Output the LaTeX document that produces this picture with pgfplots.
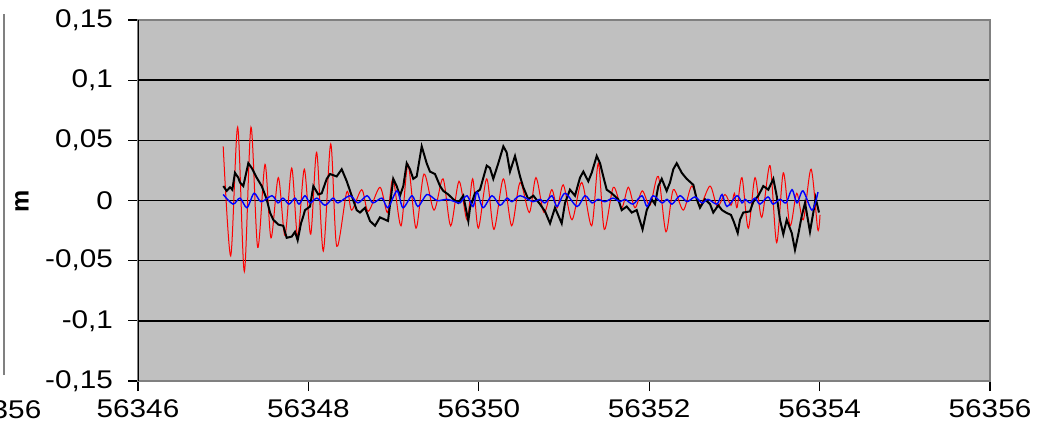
\documentclass[border=0pt]{standalone}
\usepackage{fontspec}
\setmainfont{Liberation Sans}[FakeStretch=1.16]
\newfontfamily\plainsans{Liberation Sans}
\usepackage{pgfplots}
\usepackage{pgfplotstable}
\pgfplotsset{compat=1.18}
\definecolor{plotbg}{HTML}{C0C0C0}
\definecolor{framegray}{HTML}{808080}

% x is given as offset from 56346
\pgfplotstableread{
x y
1.000 0.045
1.088 -0.046
1.170 0.061
1.248 -0.059
1.326 0.061
1.405 -0.039
1.491 0.030
1.561 -0.031
1.647 0.019
1.725 -0.029
1.804 0.027
1.874 -0.030
1.952 0.026
2.027 -0.028
2.097 0.040
2.175 -0.042
2.262 0.047
2.332 -0.038
2.450 0.007
2.508 -0.008
2.626 0.009
2.703 -0.009
2.840 0.011
2.928 -0.010
2.993 0.018
3.087 -0.021
3.169 0.030
3.263 -0.023
3.357 0.022
3.474 -0.008
3.580 0.018
3.670 -0.021
3.768 0.016
3.862 -0.016
3.928 0.018
3.994 -0.023
4.093 0.018
4.178 -0.024
4.288 0.018
4.386 -0.021
4.484 0.015
4.593 -0.010
4.671 0.019
4.765 -0.010
4.856 0.009
4.921 -0.006
4.992 0.013
5.094 -0.016
5.208 0.015
5.325 -0.021
5.403 0.031
5.473 -0.024
5.579 0.011
5.677 -0.006
5.755 0.011
5.833 -0.006
5.919 0.008
6.009 -0.004
6.107 0.020
6.197 -0.026
6.283 0.009
6.400 -0.008
6.499 0.012
6.596 -0.004
6.714 0.012
6.799 -0.005
6.890 0.005
6.960 -0.004
7.000 0.006
7.031 -0.006
7.089 0.019
7.163 -0.023
7.242 0.019
7.321 -0.014
7.418 0.029
7.496 -0.035
7.574 0.023
7.653 -0.021
7.732 0.006
7.809 -0.016
7.900 0.026
7.978 -0.024
8.005 -0.012
}\redtab

\pgfplotstableread{
x y
1.001 0.012
1.041 0.008
1.080 0.011
1.107 0.009
1.138 0.023
1.177 0.019
1.197 0.015
1.236 0.012
1.295 0.031
1.335 0.027
1.393 0.019
1.452 0.012
1.511 0.001
1.549 -0.010
1.588 -0.016
1.647 -0.020
1.705 -0.021
1.745 -0.031
1.804 -0.030
1.843 -0.026
1.874 -0.033
1.913 -0.019
1.940 -0.013
1.960 -0.008
2.019 -0.005
2.058 0.012
2.116 0.005
2.156 0.006
2.215 0.018
2.254 0.022
2.332 0.020
2.391 0.026
2.450 0.016
2.508 0.004
2.567 -0.008
2.606 -0.010
2.664 -0.006
2.723 -0.017
2.782 -0.021
2.840 -0.014
2.934 -0.017
2.996 0.018
3.036 0.012
3.075 0.004
3.114 0.012
3.154 0.031
3.192 0.026
3.231 0.018
3.271 0.020
3.330 0.045
3.388 0.031
3.427 0.024
3.486 0.022
3.545 0.012
3.583 0.008
3.642 0.005
3.701 0.001
3.759 -0.002
3.818 0.004
3.877 -0.017
3.897 -0.006
3.955 0.006
4.014 0.009
4.093 0.029
4.131 0.027
4.170 0.018
4.229 0.031
4.288 0.045
4.327 0.040
4.366 0.024
4.425 0.037
4.484 0.020
4.522 0.011
4.581 0.001
4.640 0.004
4.718 -0.003
4.777 -0.009
4.836 -0.019
4.894 -0.006
4.973 -0.019
5.012 -0.002
5.070 0.009
5.129 0.004
5.188 0.019
5.227 0.024
5.285 0.016
5.325 0.023
5.384 0.037
5.423 0.031
5.461 0.020
5.501 0.009
5.560 0.006
5.637 0.001
5.677 -0.008
5.736 -0.005
5.795 -0.010
5.853 -0.008
5.922 -0.024
5.971 -0.008
6.029 0.001
6.068 -0.003
6.107 0.012
6.147 0.018
6.205 0.008
6.244 0.015
6.283 0.026
6.323 0.031
6.382 0.023
6.440 0.018
6.518 0.013
6.558 0.001
6.596 -0.006
6.655 0.001
6.714 -0.003
6.752 -0.010
6.811 -0.004
6.855 -0.008
6.901 -0.010
6.960 -0.012
6.995 -0.018
7.039 -0.027
7.066 -0.016
7.104 -0.010
7.183 -0.009
7.222 -0.001
7.281 0.004
7.339 0.012
7.398 0.009
7.457 0.018
7.496 0.004
7.535 -0.016
7.574 -0.028
7.614 -0.016
7.673 -0.027
7.711 -0.041
7.750 -0.028
7.790 -0.013
7.829 -0.002
7.887 -0.026
7.926 -0.010
7.954 0.002
7.993 -0.010
}\blacktab

\pgfplotstableread{
x y
1.000 0.005
1.115 -0.003
1.197 0.002
1.279 -0.006
1.362 0.006
1.444 -0.001
1.573 0.004
1.643 -0.002
1.702 0.002
1.772 -0.003
1.843 0.002
1.890 -0.003
1.960 0.004
2.019 -0.002
2.101 0.002
2.195 -0.004
2.289 0.002
2.347 -0.002
2.488 0.004
2.582 -0.002
2.688 0.004
2.758 -0.002
2.864 0.002
2.934 -0.006
3.040 0.008
3.110 -0.006
3.216 0.004
3.286 -0.005
3.392 0.005
3.509 0.000
3.627 0.001
3.721 -0.001
3.779 -0.002
3.862 0.004
3.932 -0.005
3.979 0.007
4.049 -0.006
4.155 0.004
4.249 -0.004
4.331 0.002
4.390 -0.001
4.484 0.004
4.636 -0.001
4.718 0.001
4.777 -0.002
4.859 0.004
4.918 -0.005
5.012 0.006
5.153 -0.005
5.246 0.004
5.329 -0.002
5.399 0.001
5.481 -0.001
5.575 0.002
5.657 -0.001
5.716 0.001
5.810 -0.003
5.915 0.004
5.974 -0.005
6.045 0.004
6.150 -0.002
6.209 0.001
6.268 -0.003
6.362 0.004
6.444 -0.001
6.538 0.003
6.620 -0.002
6.690 0.001
6.796 -0.003
6.855 0.005
6.913 -0.005
7.031 0.004
7.089 -0.002
7.125 0.001
7.183 -0.002
7.242 0.002
7.300 -0.003
7.394 0.003
7.453 -0.003
7.535 0.001
7.606 -0.002
7.676 0.009
7.735 -0.002
7.805 0.008
7.911 -0.008
7.981 0.007
}\bluetab

\begin{document}
\begin{tikzpicture}[x=0.5pt,y=0.5pt]
\useasboundingbox (0,0) rectangle (1050,436);
% edge of the neighbouring chart, cut off
\draw[framegray, line width=1.2pt] (4,61) -- (4,422);
\node[font=\fontsize{12.8}{14}\selectfont] at (0,26) {56356};
\node[rotate=90, font=\plainsans\bfseries\fontsize{12.5}{14}\selectfont] at (22,235) {m};
\begin{axis}[
    at={(69pt,27.5pt)}, anchor=south west,
    scale only axis,
    width=426pt, height=180.5pt,
    xmin=0, xmax=10,
    ymin=-0.15, ymax=0.15,
    xtick={0,2,4,6,8,10},
    xticklabels={56346,56348,56350,56352,56354,56356},
    ytick={-0.15,-0.1,-0.05,0,0.05,0.1,0.15},
    scaled x ticks=false, scaled y ticks=false,
    yticklabel style={xshift=-4pt, /pgf/number format/.cd, use comma, fixed, precision=2},
    xticklabel style={yshift=-1pt},
    /pgf/number format/assume math mode=true,
    tick label style={font=\fontsize{12.8}{14}\selectfont},
    tick align=outside,
    major tick length=5pt,
    tick style={black, line width=0.6pt},
    xtick pos=bottom, ytick pos=left,
    ymajorgrids,
    major grid style={black, line width=0.7pt},
    axis line style={framegray, line width=0.8pt},
    axis background/.style={fill=plotbg},
]
\addplot[red, line width=0.5pt, smooth, no markers] table {\redtab};
\addplot[black, line width=1pt, no markers] table {\blacktab};
\addplot[blue, line width=0.7pt, smooth, no markers] table {\bluetab};
\draw[black, line width=0.8pt] (rel axis cs:0,0) -- (rel axis cs:0,1);
\end{axis}
\end{tikzpicture}
\end{document}
